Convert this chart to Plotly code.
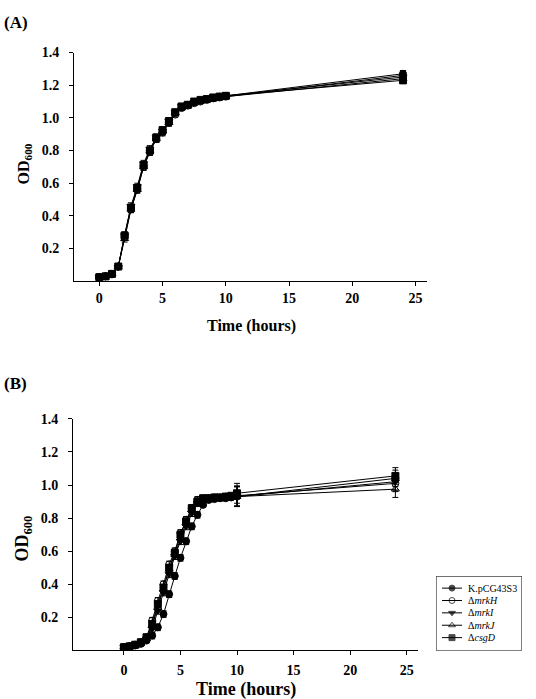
import plotly.graph_objects as go

FONT = '"Liberation Serif", "Times New Roman", serif'

t = [0, 0.5, 1, 1.5, 2, 2.5, 3, 3.5, 4, 4.5, 5, 5.5, 6, 6.5, 7, 7.5, 8, 8.5, 9, 9.5, 10, 24]

names = ["K.pCG43S3", "Δ<i>mrkH</i>", "Δ<i>mrkI</i>", "Δ<i>mrkJ</i>", "Δ<i>csgD</i>"]
symbols = ["circle", "circle-open", "triangle-down", "triangle-up-open", "square"]

# Panel A
a_wt   = [0.025, 0.03, 0.045, 0.09, 0.28, 0.45, 0.57, 0.71, 0.80, 0.87, 0.92, 0.975, 1.03, 1.065, 1.08, 1.095, 1.105, 1.115, 1.12, 1.13, 1.135, 1.27]
a_mrkH = [0.025, 0.03, 0.045, 0.09, 0.27, 0.44, 0.56, 0.70, 0.79, 0.87, 0.91, 0.97, 1.02, 1.06, 1.075, 1.09, 1.10, 1.11, 1.12, 1.125, 1.13, 1.26]
a_mrkI = [0.025, 0.03, 0.04, 0.085, 0.28, 0.46, 0.58, 0.72, 0.81, 0.88, 0.92, 0.98, 1.035, 1.07, 1.085, 1.095, 1.105, 1.115, 1.125, 1.13, 1.135, 1.25]
a_mrkJ = [0.025, 0.03, 0.045, 0.09, 0.26, 0.44, 0.56, 0.70, 0.80, 0.87, 0.92, 0.97, 1.03, 1.06, 1.075, 1.09, 1.10, 1.11, 1.115, 1.125, 1.13, 1.24]
a_csgD = [0.025, 0.03, 0.045, 0.09, 0.28, 0.45, 0.57, 0.71, 0.80, 0.88, 0.925, 0.98, 1.035, 1.07, 1.08, 1.10, 1.11, 1.115, 1.125, 1.13, 1.135, 1.23]
a_err  = [0.005, 0.005, 0.005, 0.01, 0.02, 0.02, 0.02, 0.02, 0.02, 0.02, 0.02, 0.02, 0.015, 0.01, 0.01, 0.01, 0.01, 0.01, 0.01, 0.01, 0.01, 0.02]

# Panel B
b_wt   = [0.02, 0.025, 0.03, 0.04, 0.06, 0.09, 0.14, 0.22, 0.34, 0.45, 0.56, 0.66, 0.75, 0.82, 0.88, 0.91, 0.915, 0.92, 0.92, 0.925, 0.93, 1.04]
b_mrkH = [0.02, 0.025, 0.035, 0.05, 0.08, 0.18, 0.30, 0.40, 0.52, 0.60, 0.71, 0.79, 0.86, 0.91, 0.92, 0.92, 0.925, 0.925, 0.93, 0.93, 0.935, 1.01]
b_mrkI = [0.02, 0.025, 0.03, 0.045, 0.07, 0.13, 0.24, 0.35, 0.46, 0.57, 0.66, 0.75, 0.83, 0.89, 0.91, 0.915, 0.92, 0.92, 0.925, 0.925, 0.93, 1.02]
b_mrkJ = [0.02, 0.025, 0.03, 0.045, 0.07, 0.15, 0.26, 0.37, 0.49, 0.58, 0.68, 0.77, 0.85, 0.90, 0.915, 0.92, 0.92, 0.925, 0.925, 0.93, 0.93, 0.975]
b_csgD = [0.02, 0.025, 0.035, 0.05, 0.08, 0.16, 0.28, 0.38, 0.50, 0.59, 0.70, 0.78, 0.86, 0.90, 0.92, 0.92, 0.925, 0.925, 0.93, 0.935, 0.95, 1.055]
b_err  = [0.005, 0.005, 0.005, 0.01, 0.01, 0.02, 0.02, 0.02, 0.02, 0.02, 0.02, 0.02, 0.02, 0.02, 0.01, 0.01, 0.01, 0.01, 0.01, 0.01, 0.06, 0.05]

y_ticks = [0.2, 0.4, 0.6, 0.8, 1.0, 1.2, 1.4]
y_ticktext = ["0.2", "0.4", "0.6", "0.8", "1.0", "1.2", "1.4"]
x_ticks = [0, 5, 10, 15, 20, 25]

W, H = 536, 699

def px_x(p):
    return p / W

def px_y(p):
    return 1 - p / H

fig = go.Figure()

for i, ys in enumerate([a_wt, a_mrkH, a_mrkI, a_mrkJ, a_csgD]):
    fig.add_trace(go.Scatter(
        x=t, y=ys, mode="lines+markers", name=names[i], showlegend=False,
        xaxis="x", yaxis="y",
        line=dict(color="black", width=1),
        marker=dict(symbol=symbols[i], size=7, color="black", line=dict(color="black", width=1)),
        error_y=dict(type="data", array=a_err, color="black", thickness=1, width=3),
    ))

for i, ys in enumerate([b_wt, b_mrkH, b_mrkI, b_mrkJ, b_csgD]):
    fig.add_trace(go.Scatter(
        x=t, y=ys, mode="lines+markers", name=names[i], showlegend=False,
        xaxis="x2", yaxis="y2",
        line=dict(color="black", width=1),
        marker=dict(symbol=symbols[i], size=7, color="black", line=dict(color="black", width=1)),
        error_y=dict(type="data", array=b_err, color="black", thickness=1, width=3),
    ))

# Compact legend box (own small axis pair covering just the legend area, in local pixel units)
LEG_L, LEG_T, LEG_R, LEG_B = 436, 575, 522, 650
LW, LH = LEG_R - LEG_L, LEG_B - LEG_T
leg_rows = [12, 24.5, 37, 49.5, 62]
for i in range(5):
    yc = leg_rows[i]
    fig.add_trace(go.Scatter(
        x=[6, 16, 26], y=[yc, yc, yc], mode="lines+markers", showlegend=False, hoverinfo="skip",
        xaxis="x3", yaxis="y3",
        line=dict(color="black", width=1),
        marker=dict(symbol=symbols[i], size=[0, 6, 0], color="black", line=dict(color="black", width=1)),
    ))
    fig.add_annotation(text=names[i], x=30, y=yc, xref="x3", yref="y3",
                       xanchor="left", yanchor="middle", showarrow=False,
                       font=dict(family=FONT, size=10, color="black"))
fig.add_shape(type="rect", x0=0, x1=LW, y0=0, y1=LH, xref="x3", yref="y3",
              line=dict(color="black", width=1), fillcolor="rgba(0,0,0,0)")

axis_common = dict(
    showline=True, linecolor="black", linewidth=1, showgrid=False, zeroline=False,
    ticks="outside", ticklen=4, tickcolor="black", tickwidth=1,
    tickfont=dict(family=FONT, size=14, color="black", weight="bold"),
)

fig.update_layout(
    width=W, height=H,
    margin=dict(l=0, r=0, t=0, b=0),
    paper_bgcolor="white", plot_bgcolor="rgba(0,0,0,0)",
    showlegend=False,
    xaxis=dict(domain=[px_x(74), px_x(427)], range=[-2.0, 25.9], tickvals=x_ticks, anchor="y",
               ticklabelstandoff=0, **axis_common),
    yaxis=dict(domain=[px_y(277), px_y(46)], range=[0, 1.4], tickvals=y_ticks, ticktext=y_ticktext, anchor="x",
               ticklabelstandoff=7, **axis_common),
    xaxis2=dict(domain=[px_x(73), px_x(418)], range=[-4.5, 26.0], tickvals=x_ticks, anchor="y2",
                ticklabelstandoff=3, **axis_common),
    yaxis2=dict(domain=[px_y(650), px_y(416)], range=[0, 1.4], tickvals=y_ticks, ticktext=y_ticktext, anchor="x2",
                ticklabelstandoff=7, **axis_common),
    xaxis3=dict(domain=[px_x(LEG_L), px_x(LEG_R)], range=[0, LW], visible=False, fixedrange=True, anchor="y3"),
    yaxis3=dict(domain=[px_y(LEG_B), px_y(LEG_T)], range=[LH, 0], visible=False, fixedrange=True, anchor="x3"),
)

ann = [
    dict(text="<b>(A)</b>", x=px_x(2), y=px_y(16), xanchor="left", yanchor="middle", size=17),
    dict(text="<b>(B)</b>", x=px_x(2), y=px_y(380), xanchor="left", yanchor="middle", size=17),
    dict(text="<b>Time (hours)</b>", x=px_x(251), y=px_y(322), xanchor="center", yanchor="middle", size=16),
    dict(text="<b>Time (hours)</b>", x=px_x(246), y=px_y(689), xanchor="center", yanchor="middle", size=18),
]
for a in ann:
    fig.add_annotation(text=a["text"], x=a["x"], y=a["y"], xref="paper", yref="paper",
                       xanchor=a["xanchor"], yanchor=a["yanchor"], showarrow=False,
                       font=dict(family=FONT, size=a["size"], color="black"))

for yc, sz in [(159, 16), (537, 18)]:
    fig.add_annotation(text="<b>OD<sub>600</sub></b>", x=px_x(24), y=px_y(yc), xref="paper", yref="paper",
                       xanchor="center", yanchor="middle", showarrow=False, textangle=-90,
                       font=dict(family=FONT, size=sz, color="black"))

fig.write_html("out.html")
